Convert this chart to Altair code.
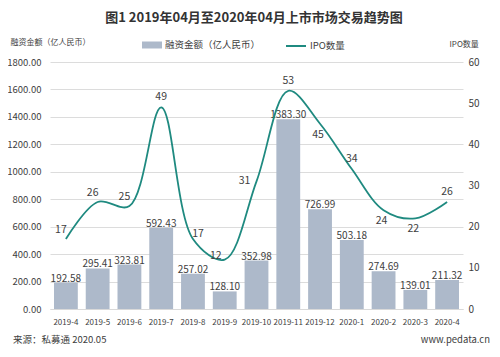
import altair as alt
import pandas as pd

months = ["2019-4", "2019-5", "2019-6", "2019-7", "2019-8", "2019-9", "2019-10",
          "2019-11", "2019-12", "2020-1", "2020-2", "2020-3", "2020-4"]
amount = [192.58, 295.41, 323.81, 592.43, 257.02, 128.10, 352.98,
          1383.30, 726.99, 503.18, 274.69, 139.01, 211.32]
ipo = [17, 26, 25, 49, 17, 12, 31, 53, 45, 34, 24, 22, 26]
# label placement of each IPO value
ipo_label_pos = ["upleft", "upleft", "upleft", "above", "upright", "nearleft", "left",
                 "above", "below", "above", "below", "below", "above"]

BAR_NAME = "融资金额（亿人民币）"
LINE_NAME = "IPO数量"
BAR_COLOR = "#adb9ca"
LINE_COLOR = "#1f8a80"
TEXT = "#404040"
FONT = "Noto Sans CJK SC"

df = pd.DataFrame({"month": months, "amount": amount, "ipo": ipo, "pos": ipo_label_pos})

xenc = alt.X("month:N", sort=months,
             scale=alt.Scale(paddingInner=0.25, paddingOuter=0.125),
             axis=alt.Axis(title=None, labelAngle=0, labelFontSize=8, labelColor=TEXT,
                           ticks=False, domainColor="#d9d9d9", labelPadding=9,
                           labelOverlap=False))

base = alt.Chart(df)

left_axis = alt.Axis(orient="left", values=list(range(0, 1801, 200)), format=".2f",
                     labelFontSize=9.5, labelColor=TEXT, ticks=False, domain=False,
                     labelPadding=9, gridColor="#dcdcdc", labelOverlap=False,
                     labelFlush=False, labelBound=False,
                     title=BAR_NAME, titleAngle=0, titleAlign="left",
                     titleBaseline="middle", titleX=-40, titleY=-20,
                     titleFontSize=8, titleFontWeight="normal", titleColor=TEXT)
yleft = alt.Y("amount:Q", scale=alt.Scale(domain=[0, 1800], nice=False), axis=left_axis)

bars = base.transform_calculate(series=f"'{BAR_NAME}'").mark_bar().encode(
    x=xenc,
    y=yleft,
    fill=alt.Fill("series:N", scale=alt.Scale(domain=[BAR_NAME], range=[BAR_COLOR]),
                  legend=alt.Legend(orient="none", legendX=92, legendY=-27, title=None,
                                    symbolType="M-1,-0.35H1V0.35H-1Z", symbolSize=400,
                                    symbolStrokeWidth=0, labelFontSize=9.5, labelColor=TEXT,
                                    labelOffset=3)),
)
bar_text = base.mark_text(baseline="alphabetic", dy=-1, fontSize=10, color=TEXT).encode(
    x=xenc,
    y=yleft,
    text=alt.Text("amount:Q", format=".2f"))

left = alt.layer(bars, bar_text)

right_axis = alt.Axis(orient="right", values=list(range(0, 61, 10)),
                      labelFontSize=10, labelColor=TEXT, ticks=False, domain=False,
                      grid=False, labelPadding=5, labelOverlap=False,
                      labelFlush=False, labelBound=False,
                      title=LINE_NAME, titleAngle=0, titleAlign="left",
                      titleBaseline="middle", titleX=-14, titleY=-18,
                      titleFontSize=8, titleFontWeight="normal", titleColor=TEXT)
yright = alt.Y("ipo:Q", scale=alt.Scale(domain=[0, 60], nice=False), axis=right_axis)

line = base.transform_calculate(series=f"'{LINE_NAME}'").mark_line(
    interpolate="catmull-rom", strokeWidth=1.8).encode(
    x=xenc,
    y=yright,
    stroke=alt.Stroke("series:N", scale=alt.Scale(domain=[LINE_NAME], range=[LINE_COLOR]),
                      legend=alt.Legend(orient="none", legendX=235, legendY=-27, title=None,
                                        symbolType="stroke", symbolSize=400,
                                        symbolStrokeWidth=2, labelFontSize=9.5,
                                        labelColor=TEXT, labelOffset=3)),
)

offsets = {
    "above": (0, -10),
    "upleft": (-5, -9),
    "upright": (5, -5),
    "nearleft": (-9, -4),
    "left": (-12, 0),
    "below": (-2, 11),
}
label_layers = []
for name, (ddx, ddy) in offsets.items():
    label_layers.append(
        base.transform_filter(alt.datum.pos == name).mark_text(
            dx=ddx, dy=ddy, fontSize=10.5, color=TEXT, baseline="middle").encode(
            x=xenc, y=yright, text="ipo:Q"))

right = alt.layer(line, *label_layers)

one = alt.Data(values=[{"a": 1}])
title_txt = alt.Chart(one).mark_text(
    text="图1  2019年04月至2020年04月上市市场交易趋势图", fontSize=13, fontWeight="bold",
    color="#333333", align="center", baseline="middle").encode(
    x=alt.value(204), y=alt.value(-44))
src_txt = alt.Chart(one).mark_text(
    text="来源：私募通 2020.05", fontSize=9.5, color=TEXT, align="left",
    baseline="middle").encode(x=alt.value(-37), y=alt.value(278))
web_txt = alt.Chart(one).mark_text(
    text="www.pedata.cn", fontSize=9.5, color=TEXT, align="right",
    baseline="middle").encode(x=alt.value(440), y=alt.value(278))

chart = alt.layer(left, right, title_txt, src_txt, web_txt).resolve_scale(
    y="independent", fill="independent", stroke="independent"
).properties(
    width=413, height=247,
    autosize=alt.AutoSizeParams(type="none"),
    padding={"left": 42, "top": 54, "right": 29, "bottom": 39},
).configure(font=FONT).configure_view(stroke=None).configure_axis(labelOverlap=False)

chart.save("out.html", embed_options={"renderer": "svg", "actions": False})
